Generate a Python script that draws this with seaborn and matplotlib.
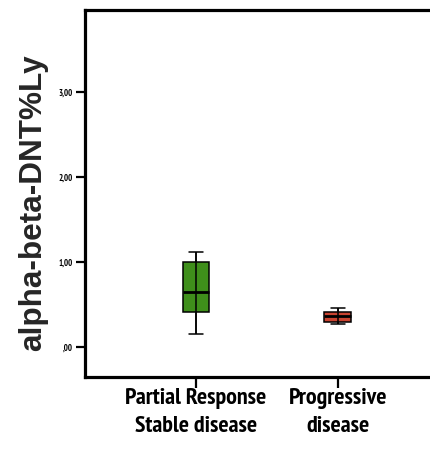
import numpy as np
import pandas as pd
import matplotlib
matplotlib.use("Agg")
import matplotlib.pyplot as plt
from matplotlib import font_manager
import seaborn as sns

# ---- data (five-number summaries) ----
categories = ["Partial Response\nStable disease", "Progressive\ndisease"]
partial_values = [0.16, 0.42, 0.65, 1.00, 1.12]
progressive_values = [0.27, 0.30, 0.37, 0.41, 0.46]
box_colors = ["#3f8f1b", "#c94330"]
y_ticks = [0.0, 1.0, 2.0, 3.0]
y_tick_labels = [",00", "1,00", "2,00", "3,00"]
y_label = "alpha-beta-DNT%Ly"

sns.set_theme(style="white")
plt.rcParams["font.family"] = ["Liberation Sans", "DejaVu Sans"]


def _w(f):
    w = f.weight
    if isinstance(w, str):
        return {"bold": 700, "normal": 400}.get(w, 400)
    return w


prefs = ["Liberation Sans Narrow", "Arial Narrow", "PT Sans Narrow", "Roboto Condensed",
         "Archivo Narrow", "Asap Condensed", "Barlow Condensed"]
fl = font_manager.fontManager.ttflist
narrow = "Liberation Sans"
for p in prefs:
    if any(f.name == p and _w(f) >= 700 and f.style == "normal" for f in fl):
        narrow = p
        break

df = pd.DataFrame({
    "group": [categories[0]] * len(partial_values) + [categories[1]] * len(progressive_values),
    "value": partial_values + progressive_values,
})

fig = plt.figure(figsize=(4.31, 4.55), dpi=100)
ax = fig.add_axes([0.197, 0.1714, 0.803, 0.807])

sns.boxplot(data=df, x="group", y="value", hue="group", order=categories,
            hue_order=categories, palette=box_colors, width=0.19, whis=(0, 100),
            linewidth=1.1, linecolor="black", showfliers=False, legend=False,
            saturation=1, ax=ax,
            medianprops=dict(linewidth=2.0, color="black"))

# whisker line drawn through the box (SPSS style)
for i, vals in enumerate([partial_values, progressive_values]):
    ax.vlines(i, min(vals), max(vals), color="black", linewidth=1.1, zorder=5)

ax.set_xlim(-0.783, 1.656)
ax.set_ylim(-0.35, 3.97)
ax.set_yticks(y_ticks)
ax.set_yticklabels(y_tick_labels, family=narrow, fontweight="bold", fontsize=6.3)
ax.set_xticks([0, 1])
ax.set_xticklabels(categories, family=narrow, fontweight="bold", fontsize=15,
                   linespacing=1.45)
ax.set_xlabel("")
ylab = ax.set_ylabel(y_label, fontsize=18.5, fontweight="bold", family="Liberation Sans")
ax.yaxis.set_label_coords(-0.105, 0.474)

for side in ["left", "top", "bottom"]:
    ax.spines[side].set_linewidth(2.3)
    ax.spines[side].set_color("black")
ax.spines["right"].set_visible(False)

ax.tick_params(axis="y", direction="out", length=6.5, width=1.6, pad=2,
               colors="black", left=True)
ax.tick_params(axis="x", direction="out", length=8, width=1.6, pad=0,
               colors="black", bottom=True)
ax.grid(False)

# scale text sizes to the pixel extents measured on the reference
fig.canvas.draw()
r = fig.canvas.get_renderer()
w = ax.get_xticklabels()[0].get_window_extent(r).width
fs = 15 * 142.0 / w
for t in ax.get_xticklabels():
    t.set_fontsize(fs)
h = ylab.get_window_extent(r).height
ylab.set_fontsize(18.5 * 297.0 / h)

fig.savefig("out.png", dpi=100)
